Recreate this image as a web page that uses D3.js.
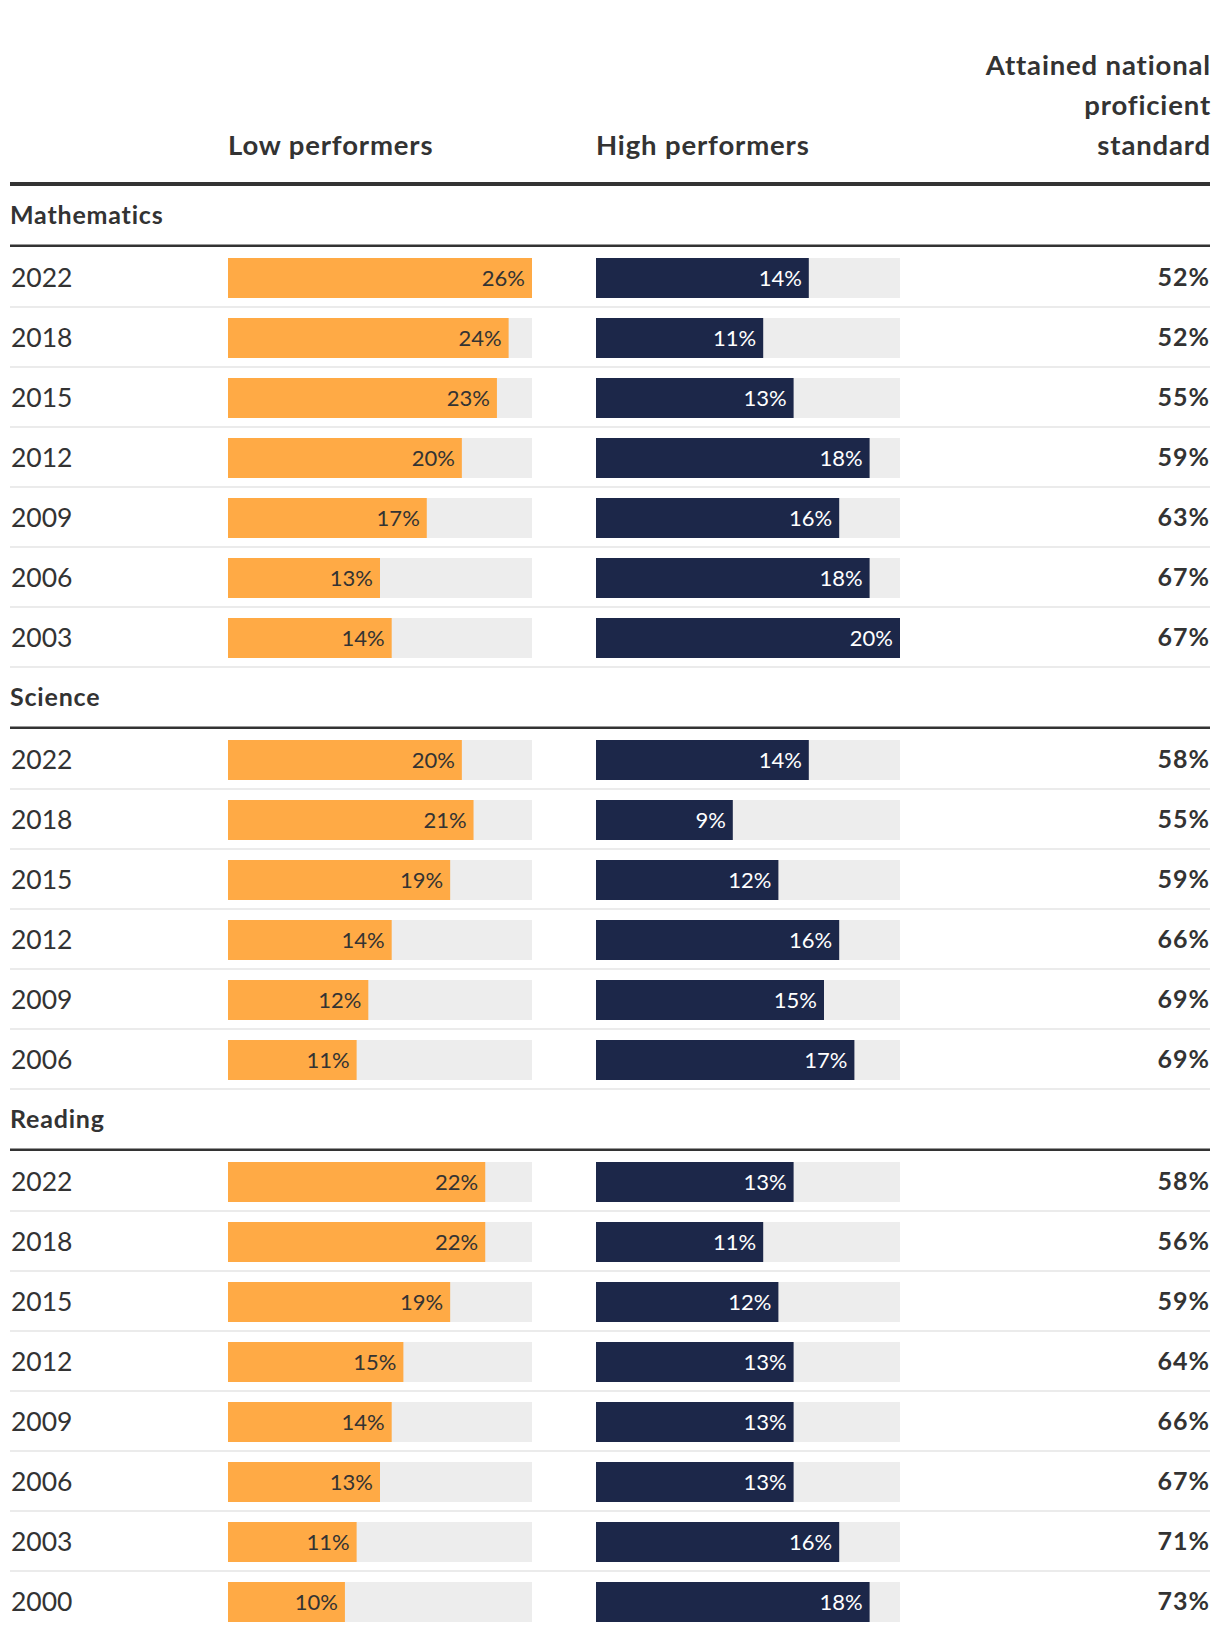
<!DOCTYPE html>
<html>
<head>
<meta charset="utf-8">
<script src="https://cdn.jsdelivr.net/npm/d3@7"></script>
<style>
  html, body { margin: 0; padding: 0; background: #ffffff; }
  svg { display: block; font-family: Lato, "Noto Sans", sans-serif; }
</style>
</head>
<body>
<svg id="chart" width="1220" height="1640"></svg>
<script>
// ---------- DATA ----------
const subjects = ["Mathematics", "Science", "Reading"];
const columnHeaders = ["Low performers", "High performers"];
const attainedHeader = ["Attained national", "proficient", "standard"];

const mathYears = ["2022", "2018", "2015", "2012", "2009", "2006", "2003"];
const mathLow = [26, 24, 23, 20, 17, 13, 14];
const mathHigh = [14, 11, 13, 18, 16, 18, 20];
const mathAttained = [52, 52, 55, 59, 63, 67, 67];

const scienceYears = ["2022", "2018", "2015", "2012", "2009", "2006"];
const scienceLow = [20, 21, 19, 14, 12, 11];
const scienceHigh = [14, 9, 12, 16, 15, 17];
const scienceAttained = [58, 55, 59, 66, 69, 69];

const readingYears = ["2022", "2018", "2015", "2012", "2009", "2006", "2003", "2000"];
const readingLow = [22, 22, 19, 15, 14, 13, 11, 10];
const readingHigh = [13, 11, 12, 13, 13, 13, 16, 18];
const readingAttained = [58, 56, 59, 64, 66, 67, 71, 73];

// ---------- BUILD ----------
const sectionData = [
  { name: subjects[0], years: mathYears, low: mathLow, high: mathHigh, att: mathAttained },
  { name: subjects[1], years: scienceYears, low: scienceLow, high: scienceHigh, att: scienceAttained },
  { name: subjects[2], years: readingYears, low: readingLow, high: readingHigh, att: readingAttained }
];

const TEXT = "#333333";
const ORANGE = "#FFAA45";
const NAVY = "#1C2749";
const TRACK = "#EDEDED";
const SEP = "#EBEBEB";

const left = 10, right = 1210;
const allLow = [].concat(mathLow, scienceLow, readingLow);
const allHigh = [].concat(mathHigh, scienceHigh, readingHigh);

const xLow = d3.scaleLinear().domain([0, d3.max(allLow)]).range([228, 532]);
const xHigh = d3.scaleLinear().domain([0, d3.max(allHigh)]).range([596, 900]);

const rowPitch = 60, barH = 40;
const sectionHead = 73; // from section top line to first bar top

// vertical layout
let rows = [];
let heads = [];
let y0 = 185;
sectionData.forEach((s, si) => {
  heads.push({ name: s.name, y0: y0 });
  const firstBar = y0 + sectionHead;
  s.years.forEach((yr, i) => {
    rows.push({
      year: yr, low: s.low[i], high: s.high[i], att: s.att[i],
      top: firstBar + i * rowPitch,
      last: (si === sectionData.length - 1 && i === s.years.length - 1)
    });
  });
  y0 = firstBar + (s.years.length - 1) * rowPitch + 49;
});

const svg = d3.select("#chart");

// Header
const hdr = svg.append("g").attr("fill", TEXT).attr("font-weight", 700)
  .attr("font-size", 27.5).attr("letter-spacing", 0.85);
hdr.append("text").attr("x", xLow.range()[0]).attr("y", 155).text(columnHeaders[0]);
hdr.append("text").attr("x", xHigh.range()[0]).attr("y", 155).text(columnHeaders[1]);
attainedHeader.forEach((t, i) => {
  hdr.append("text").attr("x", right + 1).attr("y", 75 + i * 40).attr("text-anchor", "end").text(t);
});

svg.append("rect").attr("x", left).attr("y", 182).attr("width", right - left).attr("height", 4).attr("fill", TEXT);

// Section heads
const hg = svg.append("g").selectAll("g").data(heads).join("g");
hg.append("text")
  .attr("x", left).attr("y", d => d.y0 + 39)
  .attr("fill", TEXT).attr("font-weight", 700).attr("font-size", 25).attr("letter-spacing", 0.8)
  .text(d => d.name);
hg.append("rect")
  .attr("x", left).attr("y", d => d.y0 + 59.5).attr("width", right - left).attr("height", 2.5)
  .attr("fill", TEXT);

// Rows
const rg = svg.append("g").selectAll("g").data(rows).join("g");

rg.filter(d => !d.last).append("rect")
  .attr("x", left).attr("y", d => d.top + 48).attr("width", right - left).attr("height", 2)
  .attr("fill", SEP);

rg.append("text")
  .attr("x", left + 1).attr("y", d => d.top + 29)
  .attr("fill", TEXT).attr("font-size", 26.5)
  .text(d => d.year);

// low tracks & bars
rg.append("rect")
  .attr("x", xLow(0)).attr("y", d => d.top).attr("height", barH)
  .attr("width", xLow.range()[1] - xLow.range()[0]).attr("fill", TRACK);
rg.append("rect")
  .attr("x", xLow(0)).attr("y", d => d.top).attr("height", barH)
  .attr("width", d => xLow(d.low) - xLow(0)).attr("fill", ORANGE);
rg.append("text")
  .attr("x", d => xLow(d.low) - 7).attr("y", d => d.top + 28)
  .attr("text-anchor", "end").attr("fill", TEXT).attr("font-size", 22)
  .text(d => d.low + "%");

// high tracks & bars
rg.append("rect")
  .attr("x", xHigh(0)).attr("y", d => d.top).attr("height", barH)
  .attr("width", xHigh.range()[1] - xHigh.range()[0]).attr("fill", TRACK);
rg.append("rect")
  .attr("x", xHigh(0)).attr("y", d => d.top).attr("height", barH)
  .attr("width", d => xHigh(d.high) - xHigh(0)).attr("fill", NAVY);
rg.append("text")
  .attr("x", d => xHigh(d.high) - 7).attr("y", d => d.top + 28)
  .attr("text-anchor", "end").attr("fill", "#ffffff").attr("font-size", 22)
  .text(d => d.high + "%");

// attained
rg.append("text")
  .attr("x", right).attr("y", d => d.top + 27.5)
  .attr("text-anchor", "end").attr("fill", TEXT).attr("font-weight", 700)
  .attr("font-size", 25).attr("letter-spacing", 1)
  .text(d => d.att + "%");
</script>
</body>
</html>
